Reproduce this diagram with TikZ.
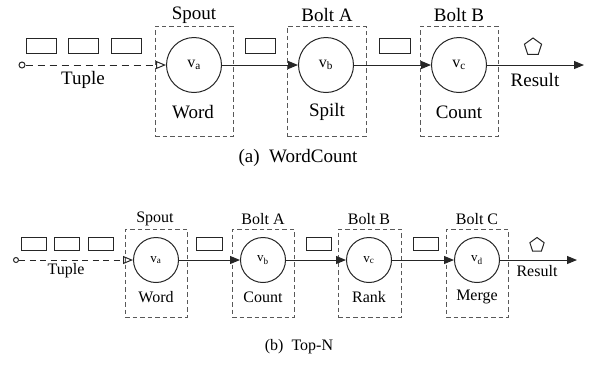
\documentclass[tikz,border=0pt]{standalone}
\usepackage{fontspec}
\setmainfont{Liberation Serif}
\usetikzlibrary{arrows.meta,shapes.geometric}
\tikzset{
  box/.style={draw=black!65, line width=0.9pt, dash pattern=on 4.5pt off 3pt},
  vert/.style={draw=black!85, circle, line width=1pt, inner sep=0pt},
  tok/.style={draw=black!85, line width=1pt},
  flow/.style={draw=black!85, line width=1pt, -{Triangle[length=10pt,width=8pt]}},
  inflow/.style={draw=black!85, line width=1pt, dash pattern=on 7pt off 5pt,
                 -{Triangle[open,length=10pt,width=8pt]}},
  res/.style={draw=black!85, regular polygon, regular polygon sides=5, line width=1pt, inner sep=0pt},
  src/.style={draw=black!85, circle, line width=1pt, minimum size=6pt, inner sep=0pt, fill=white},
}
\begin{document}
\begin{tikzpicture}[x=1pt,y=-1pt]
\useasboundingbox (0,0) rectangle (597,365);

% ---------------- (a) WordCount ----------------
\begin{scope}[font=\rmfamily\fontsize{19}{21}\selectfont]
  \node[box, minimum width=78pt, minimum height=110pt] (bxa) at (194,81) {};
  \node[box, minimum width=79pt, minimum height=110pt] (bxb) at (326.5,81) {};
  \node[box, minimum width=78pt, minimum height=110pt] (bxc) at (459,81) {};
  \node (lsa) at (194,15) {Spout};
  \node (lsb) at (327,15) {Bolt A};
  \node (lsc) at (459,15) {Bolt B};
  \node[vert, minimum size=55pt] (va) at (194,65) {\fontsize{16}{16}\selectfont v\textsubscript{a}};
  \node[vert, minimum size=55pt] (vb) at (326,65) {\fontsize{16}{16}\selectfont v\textsubscript{b}};
  \node[vert, minimum size=55pt] (vc) at (459,65) {\fontsize{16}{16}\selectfont v\textsubscript{c}};
  \node (wa) at (193,112) {Word};
  \node (wb) at (327,112) {Spilt};
  \node (wc) at (459,112) {Count};
  \node[src] (s1) at (22,65) {};
  \coordinate (e1) at (584,65);
  \draw[inflow] (s1) -- (va);
  \draw[flow] (va) -- (vb);
  \draw[flow] (vb) -- (vc);
  \draw[flow] (vc) -- (e1);
  \node[tok, minimum width=30pt, minimum height=15pt] (t1) at (41,45.5) {};
  \node[tok, minimum width=30pt, minimum height=15pt] (t2) at (83,45.5) {};
  \node[tok, minimum width=30pt, minimum height=15pt] (t3) at (126,45.5) {};
  \node[tok, minimum width=30pt, minimum height=15pt] (t4) at (260,45.5) {};
  \node[tok, minimum width=31pt, minimum height=15pt] (t5) at (395,45.5) {};
  \node[res, minimum size=18pt] (r1) at (533,47) {};
  \node (tu1) at (83,80) {Tuple};
  \node (re1) at (535,80) {Result};
  \node (ca) at (298,158) {(a)\ \ WordCount};
\end{scope}

% ---------------- (b) Top-N ----------------
\begin{scope}[font=\rmfamily\fontsize{16}{18}\selectfont]
  \node[box, minimum width=62pt, minimum height=88pt] (bya) at (156,273) {};
  \node[box, minimum width=62pt, minimum height=88pt] (byb) at (263,273) {};
  \node[box, minimum width=63pt, minimum height=88pt] (byc) at (369.5,273) {};
  \node[box, minimum width=62pt, minimum height=88pt] (byd) at (477,273) {};
  \node (lta) at (155,219) {Spout};
  \node (ltb) at (263,219) {Bolt A};
  \node (ltc) at (369,219) {Bolt B};
  \node (ltd) at (477,219) {Bolt C};
  \node[vert, minimum size=45pt] (ua) at (156,260) {\fontsize{13}{13}\selectfont v\textsubscript{a}};
  \node[vert, minimum size=45pt] (ub) at (263,260) {\fontsize{13}{13}\selectfont v\textsubscript{b}};
  \node[vert, minimum size=45pt] (uc) at (369,260) {\fontsize{13}{13}\selectfont v\textsubscript{c}};
  \node[vert, minimum size=45pt] (ud) at (477,260) {\fontsize{13}{13}\selectfont v\textsubscript{d}};
  \node (xa) at (156,297) {Word};
  \node (xb) at (263,297) {Count};
  \node (xc) at (369,297) {Rank};
  \node (xd) at (477,297) {Merge};
  \node[src, minimum size=5pt] (s2) at (16,260) {};
  \coordinate (e2) at (577,260);
  \draw[inflow, dash pattern=on 6pt off 4.5pt] (s2) -- (ua);
  \draw[flow] (ua) -- (ub);
  \draw[flow] (ub) -- (uc);
  \draw[flow] (uc) -- (ud);
  \draw[flow] (ud) -- (e2);
  \node[tok, minimum width=25pt, minimum height=13pt] (q1) at (33.5,244) {};
  \node[tok, minimum width=25pt, minimum height=13pt] (q2) at (66.5,244) {};
  \node[tok, minimum width=25pt, minimum height=13pt] (q3) at (100.5,244) {};
  \node[tok, minimum width=26pt, minimum height=13pt] (q4) at (209,244) {};
  \node[tok, minimum width=25pt, minimum height=13pt] (q5) at (318.5,244) {};
  \node[tok, minimum width=25pt, minimum height=13pt] (q6) at (425.5,244) {};
  \node[res, minimum size=15pt] (r2) at (537,245) {};
  \node (tu2) at (66,271) {Tuple};
  \node (re2) at (537,271) {Result};
  \node (cb) at (299,347) {(b)\ \ Top-N};
\end{scope}
\end{tikzpicture}
\end{document}
